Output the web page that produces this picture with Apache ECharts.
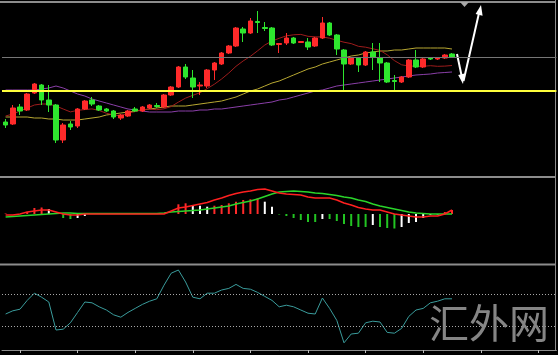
<!DOCTYPE html>
<html>
<head>
<meta charset="utf-8">
<script src="https://cdn.jsdelivr.net/npm/echarts@6/dist/echarts.min.js"></script>
<style>
  html, body { margin: 0; padding: 0; background: #000; }
  #chart { width: 558px; height: 355px; }
</style>
</head>
<body>
<div id="chart"></div>
<script>
// values (price panel in raw units, higher = higher)
const slotCount = 77
const categories = Array.from({ length: slotCount }, (_, i) => String(i + 1))

// [open, close, low, high]
const candles = [
  [58, 55, 52, 61], [56, 72, 55, 75], [73, 69, 65, 76], [70, 86, 69, 87], [87, 96, 86, 97],
  [95, 80, 75, 96], [80, 75, 68, 95], [75, 40, 37, 76], [40, 55, 37, 57], [56, 53, 50, 59],
  [54, 71, 52, 72], [71, 79, 70, 80], [80, 76, 74, 83], [74, 70, 69, 75], [71, 69, 68, 72],
  [69, 63, 61, 70], [62, 65, 60, 66], [64, 69, 63, 70], [71, 69, 68, 73], [69, 73, 68, 74],
  [72, 75, 71, 76], [74.5, 73.5, 72, 77], [73, 85, 72, 86], [85, 93, 84, 94], [93, 113, 92, 114],
  [113, 103, 101, 116], [102, 93, 82, 110], [94, 95, 85, 98], [94, 110, 92, 111], [110, 117, 100, 118],
  [116, 127, 115, 128], [127, 134, 126, 135], [134, 152, 133, 153], [151, 147, 138, 153], [147, 159, 146, 162],
  [158.5, 157.5, 147, 169], [152.5, 151.5, 149, 158], [152, 135, 134, 153], [135.5, 136.5, 127, 137], [137, 142, 135, 147],
  [142, 137, 136, 143], [137.5, 138.5, 137, 139], [138, 133, 130, 142], [134, 142, 133, 143], [142, 157, 141, 163],
  [157, 145, 144, 158], [145, 131, 125, 146], [130, 116, 88, 131], [116, 122, 115, 123], [122, 115, 108, 123],
  [115, 128, 114, 129], [128, 123, 110, 137], [122, 117, 98, 137], [117, 98, 97, 118], [99.5, 98.5, 90, 105],
  [98, 103, 97, 104], [103, 120, 102, 121], [120, 113, 112, 130], [113, 121, 112, 122], [122.5, 121, 120, 123],
  [121, 122.5, 120, 123], [122, 125, 121, 126], [126, 123, 122, 127]
]

const ma10 = [64, 66, 69, 72, 75, 76, 76, 74, 71, 68.1, 69.7, 70.4, 71.1, 69.5, 66.8, 65.1, 64.1, 67, 68.4, 70.4,
  70.8, 70.3, 71.2, 73.5, 77.9, 81.9, 84.7, 87.3, 91.4, 95.8, 101, 107, 113.7, 119.1, 123.7, 129.2, 135, 139, 141.7,
  144.2, 145.2, 145.6, 143.7, 143.2, 143, 141.8, 139.7, 137.8, 136.4, 133.7, 132.8, 131.2, 129.6, 125.2, 119.4, 115.2,
  114, 113.8, 113.7, 114.3, 113.7, 113.9, 114.5]
const ma30 = [63, 63, 63, 63, 62, 62, 61, 61, 60, 60, 60, 61, 62, 63, 65, 66, 67, 68, 69, 70, 71, 72, 73, 74, 74, 74,
  75, 76, 77, 78, 79, 81, 83, 86, 89, 91, 94, 97, 99, 102, 105, 108, 111, 113, 116, 118, 120, 122, 124, 125, 127, 128,
  129, 129, 130, 130, 131, 132, 132, 132, 132, 132, 131]
const ma60 = [90, 90, 90, 90, 90, 91, 92, 94, 92, 89, 86, 84, 81, 79, 77, 75, 73, 71, 70, 69, 68, 68, 68, 68, 69, 69,
  69, 70, 70, 71, 71, 72, 73, 74, 75, 76, 77, 78, 80, 81, 83, 85, 87, 89, 90, 92, 94, 95, 96, 97, 98, 99, 100, 101, 102,
  103, 104, 105, 105.5, 106, 107, 107.5, 108]

const supportLevel = 89
const lastPrice = 123

// MACD panel
const dif = [-1, -1, 0, 2, 3, 4, 4, 2, 0, -1, -1, 0, 0, 0, 0, 0, 0, 0, 0, 0, 0, 0, 0, 3, 6, 7, 8.5, 10, 11.5, 14,
  16, 18.5, 20.5, 22, 23, 24.5, 25, 23, 21, 20, 19.5, 19, 17, 16, 16, 16, 14, 11, 9, 6.5, 5, 4, 4, 2, 0, -1, -2, -3, -3,
  -2, -2, 0, 4]
const dea = [-3, -2.5, -2, -1.5, -1, -0.5, 0, 0.5, 1, 1, 0.5, 0.5, 0.5, 0.5, 0.5, 0.5, 0.5, 0.5, 0.5, 0.5, 0.5, 0.5,
  1, 2, 2.5, 3, 3.5, 4, 5, 6, 7, 8, 10, 11.5, 13, 15, 17.5, 20, 22, 22.5, 23, 22.5, 22, 21, 20.5, 19.5, 18.5, 17, 16,
  14, 12.5, 10, 8, 6.5, 5, 3.5, 2, 1, 0.5, 0, 0, 0, 0]
const macdHist = [0.5, 0, 0, 2, 6, 6.5, 5, 0, -4, -5, -4, -2, 0, 0, 0, 0.5, 0, 0, 0, 0, 0, 0, 0, 0, 9.7, 10.7, 9,
  8.3, 7.3, 8.3, 9, 10.7, 12.3, 14, 14.7, 15.7, 12.3, 7.3, -0.5, -2, -4, -6, -8, -8, -5, -5, -7, -10, -12, -13, -13,
  -11, -13, -14, -14.5, -13, -9, -8, -4, -1, -0.5, 2, 4]

// oscillator panel
const osc = [45, 49, 51, 62, 71, 66, 60, 25, 26, 34, 47, 60, 59, 54, 50, 44, 41, 47, 52, 57, 61, 64, 81, 96, 100,
  85, 66, 64, 71, 71, 75, 77, 82, 77, 76, 72, 67, 62, 54, 56, 54, 50, 46, 45, 65, 52, 37, 9, 20, 21, 34, 36, 35, 22,
  21, 27, 42, 50, 52, 59, 61, 64, 64]
const oscLevels = [70, 30]

const RED = '#ff2a2a'
const GREEN = '#2ee62e'
const BORDER = '#8c8c8c'

const chart = echarts.init(document.getElementById('chart'))

const plainX = (idx) => ({
  type: 'category',
  gridIndex: idx,
  data: categories,
  boundaryGap: true,
  axisLine: { show: false },
  axisTick: { show: false },
  axisLabel: { show: false },
  splitLine: { show: false }
})

const histColor = (p) => {
  const v = p.value
  const prev = p.dataIndex > 0 ? macdHist[p.dataIndex - 1] : 0
  if (v > 0) return v >= prev ? RED : '#ffffff'
  return v <= prev ? '#22c422' : '#ffffff'
}

chart.setOption({
  backgroundColor: '#000',
  animation: false,
  grid: [
    { left: 2, top: 4, width: 554.4, height: 172 },
    { left: 2, top: 179, width: 554.4, height: 83 },
    { left: 2, top: 266, width: 554.4, height: 84 }
  ],
  xAxis: [
    plainX(0),
    plainX(1),
    Object.assign(plainX(2), {
      axisLine: { show: true, lineStyle: { color: BORDER, width: 1 } },
      axisTick: {
        show: true,
        length: 3,
        alignWithLabel: true,
        interval: (i) => i % 8 === 2,
        lineStyle: { color: '#bdbdbd' }
      }
    })
  ],
  yAxis: [
    { gridIndex: 0, min: 4, max: 176, show: false },
    { gridIndex: 1, min: -48, max: 35, show: false },
    { gridIndex: 2, min: 0, max: 105, show: false }
  ],
  series: [
    {
      name: 'MA60', type: 'line', data: ma60, showSymbol: false, z: 2,
      lineStyle: { color: '#8a3fa8', width: 1 }
    },
    {
      name: 'MA30', type: 'line', data: ma30, showSymbol: false, z: 2,
      lineStyle: { color: '#b8a832', width: 1 }
    },
    {
      name: 'MA10', type: 'line', data: ma10, showSymbol: false, z: 2,
      lineStyle: { color: '#9e1c1c', width: 1 }
    },
    {
      name: 'K', type: 'candlestick', data: candles, barWidth: 5, z: 3,
      itemStyle: { color: RED, color0: GREEN, borderColor: RED, borderColor0: GREEN, borderWidth: 1 },
      markLine: {
        symbol: 'none', silent: true, label: { show: false },
        data: [
          { yAxis: lastPrice, lineStyle: { color: '#767676', width: 1, type: 'solid' } },
          { yAxis: supportLevel, lineStyle: { color: '#ffff3c', width: 2, type: 'solid' } }
        ]
      }
    },
    {
      name: 'MACD', type: 'bar', xAxisIndex: 1, yAxisIndex: 1, data: macdHist, barWidth: 2,
      itemStyle: { color: histColor }
    },
    {
      name: 'DEA', type: 'line', xAxisIndex: 1, yAxisIndex: 1, data: dea, showSymbol: false,
      lineStyle: { color: '#2ad42a', width: 1.5 }
    },
    {
      name: 'DIF', type: 'line', xAxisIndex: 1, yAxisIndex: 1, data: dif, showSymbol: false,
      lineStyle: { color: '#ff2020', width: 1.5 }
    },
    {
      name: 'OSC', type: 'line', xAxisIndex: 2, yAxisIndex: 2, data: osc, showSymbol: false,
      lineStyle: { color: '#3a9c9c', width: 1 },
      markLine: {
        symbol: 'none', silent: true, label: { show: false },
        lineStyle: { color: '#a8a8a8', width: 1, type: [1, 2] },
        data: oscLevels.map(v => ({ yAxis: v }))
      }
    }
  ],
  graphic: [
    // panel frames
    { type: 'line', shape: { x1: 0, y1: 2, x2: 556, y2: 2 }, style: { stroke: BORDER, lineWidth: 2 } },
    { type: 'line', shape: { x1: 0, y1: 177, x2: 556, y2: 177 }, style: { stroke: BORDER, lineWidth: 2 } },
    { type: 'line', shape: { x1: 0, y1: 264.5, x2: 556, y2: 264.5 }, style: { stroke: BORDER, lineWidth: 2 } },
    { type: 'line', shape: { x1: 555.5, y1: 0, x2: 555.5, y2: 351 }, style: { stroke: BORDER, lineWidth: 1 } },
    { type: 'polygon', shape: { points: [[460, 2], [469, 2], [464.5, 7]] }, style: { fill: '#a8a8a8' } },
    // hand-drawn arrows
    { type: 'polyline', shape: { points: [[457, 54], [462.5, 80]] }, style: { stroke: '#fff', lineWidth: 2 } },
    { type: 'polygon', shape: { points: [[463, 84], [464.6, 73.6], [458.2, 74.9]] }, style: { fill: '#fff' } },
    { type: 'polyline', shape: { points: [[463.5, 81], [479, 13]] }, style: { stroke: '#fff', lineWidth: 2 } },
    { type: 'polygon', shape: { points: [[481, 5], [482.6, 15.8], [475.6, 14.1]] }, style: { fill: '#fff' } },
    // watermark
    {
      type: 'text', left: 429, top: 303, z: 10,
      style: { text: '汇外网', font: '40px "Noto Sans CJK SC"', fill: '#858585' }
    }
  ]
})
</script>
</body>
</html>
